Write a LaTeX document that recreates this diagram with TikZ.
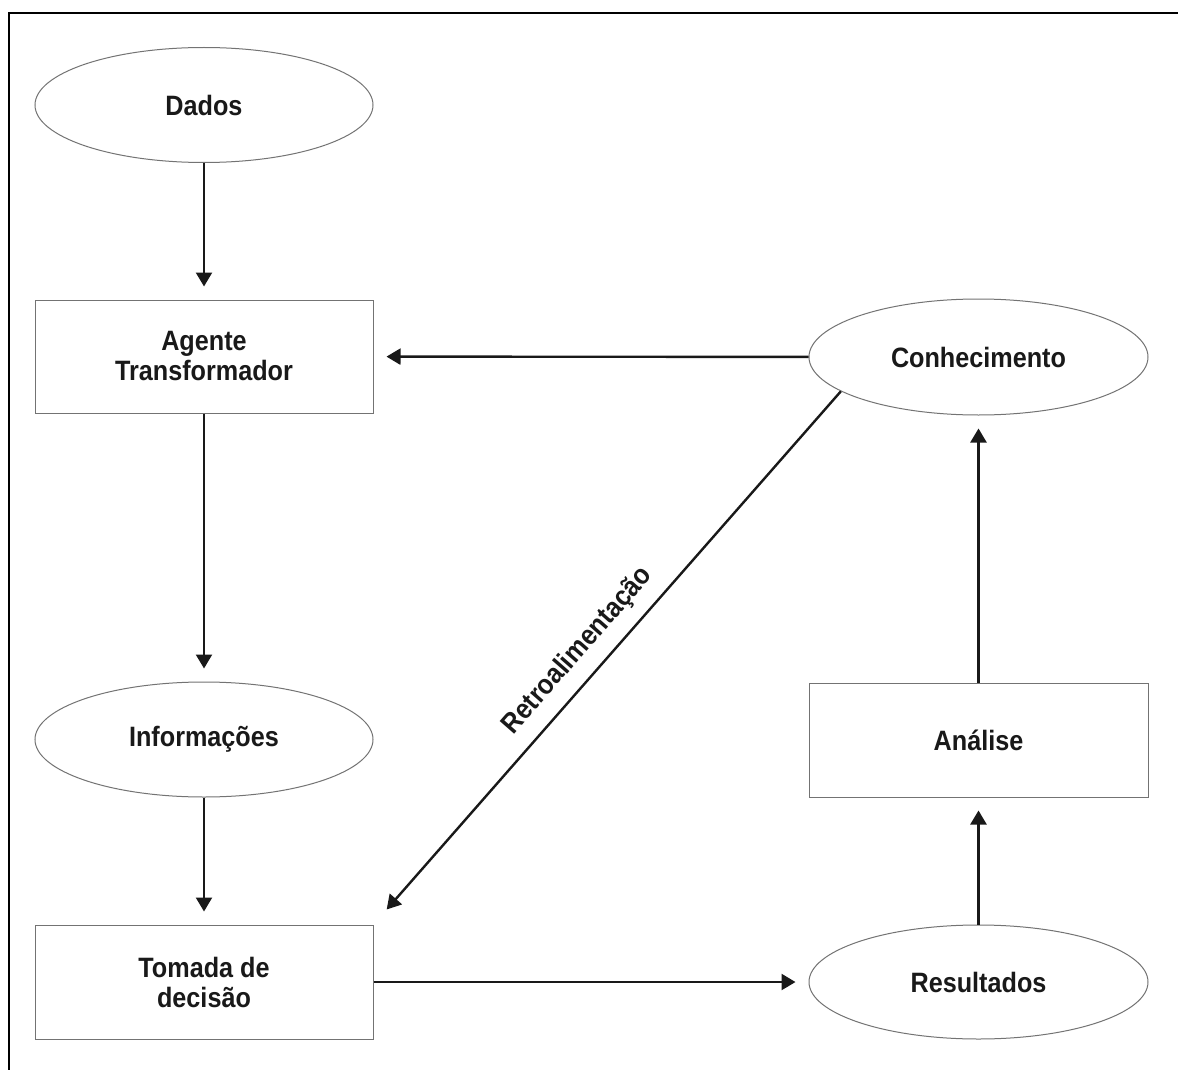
\documentclass[tikz,border=0pt]{standalone}
\usepackage{fontspec}
\setmainfont[FakeStretch=0.9]{Liberation Sans}
\usetikzlibrary{shapes.geometric,arrows.meta}
\begin{document}
\begin{tikzpicture}[x=1pt,y=-1pt,
  every node/.style={font=\fontsize{28}{30}\selectfont\bfseries, text=black!90, align=center},
  oval/.style={ellipse, draw=black!55, line width=1pt, inner sep=0pt, minimum width=338pt, minimum height=115pt},
  boxnode/.style={rectangle, draw=black!55, line width=1pt, inner sep=0pt, minimum width=338pt, minimum height=113pt},
  conn/.style={line width=2.4pt, black!90, -{Triangle[length=14pt,width=16pt]}, shorten >=13pt}]
\useasboundingbox (0,0) rectangle (1178,1070);
\fill[white] (0,0) rectangle (1178,1070);
\draw[line width=2.5pt] (9,1070) -- (9,13) -- (1178,13);

\node[oval] (dad) at (204,105) {Dados};
\node[boxnode] (age) at (204,356.5) {Agente\\Transformador};
\node[oval] (inf) at (204,739.5) {Informações};
\node[boxnode, minimum height=114pt] (tom) at (204,982) {Tomada de\\decisão};
\node[oval, minimum width=339pt, minimum height=116pt] (con) at (978.5,357) {Conhecimento};
\node[boxnode, minimum width=339pt, minimum height=114pt] (ana) at (978.5,740) {Análise};
\node[oval, minimum width=339pt, minimum height=114pt] (res) at (978.5,982) {Resultados};

\draw[conn] (dad) -- (age);
\draw[conn] (age) -- (inf);
\draw[conn] (inf) -- (tom);
\draw[conn] (con) -- (age);
\draw[conn] (tom) -- (res);
\draw[conn] (res) -- (ana);
\draw[conn] (ana) -- (con);
\draw[conn, shorten >=20pt] (con.194) -- (tom.north east)
  node[pos=0.52, sloped, above=9pt] {Retroalimentação};
\end{tikzpicture}
\end{document}
